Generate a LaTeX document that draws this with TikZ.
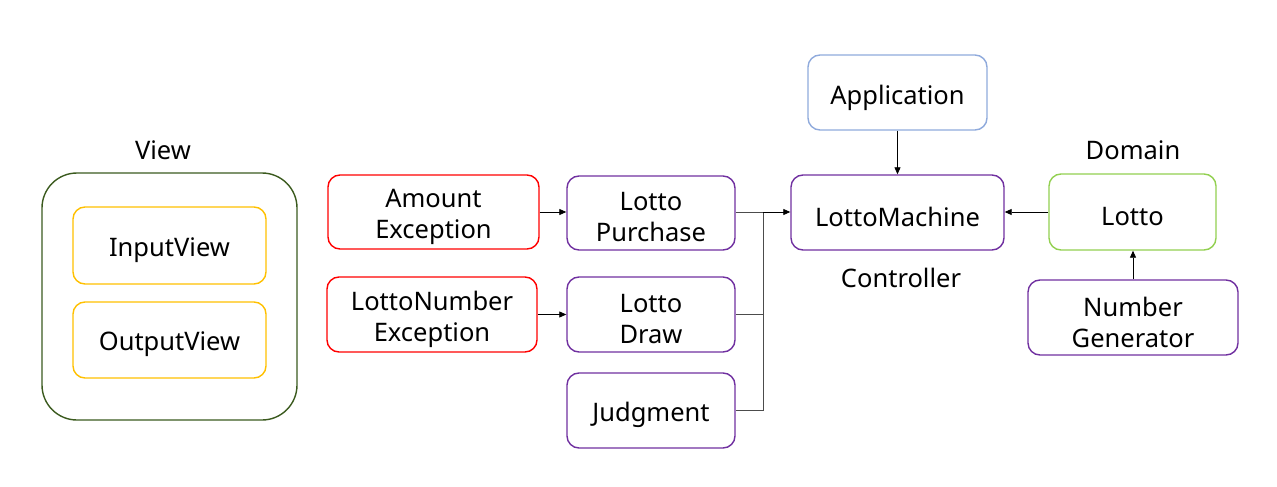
\documentclass[tikz,border=0pt]{standalone}
\usepackage{fontspec}
\setmainfont{Noto Sans}
\usetikzlibrary{arrows.meta}
\definecolor{viewgreen}{HTML}{3B5A1E}
\definecolor{yel}{HTML}{FFC000}
\definecolor{exred}{HTML}{FF0000}
\definecolor{purp}{HTML}{7030A0}
\definecolor{lblue}{HTML}{8FAADC}
\definecolor{lgreen}{HTML}{92D050}
\begin{document}
\begin{tikzpicture}[x=1pt,y=-1pt,
  box/.style={draw, line width=1.4pt, rounded corners=12pt, align=center, inner sep=0pt},
  lbl/.style={font=\fontsize{25.5}{31}\selectfont, inner sep=0pt},
  txt/.style={font=\fontsize{25.5}{31}\selectfont, inner sep=0pt, align=center},
  arr/.style={-{Triangle[length=7pt,width=6pt]}, line width=0.8pt},
  bus/.style={line width=1pt, draw=black!70}]
\useasboundingbox (0,0) rectangle (1277,487);
% View group
\node[draw=viewgreen, line width=1.4pt, rounded corners=35pt, minimum width=255pt, minimum height=247pt, inner sep=0pt] (view) at (169.5,296.5) {};
\node[lbl] (viewlbl) at (163,150) {View};
\node[box, draw=yel, minimum width=193pt, minimum height=77pt] (input) at (169.5,245.5) {};
\node[txt] (inputt) at (169.5,250) {InputView};
\node[box, draw=yel, minimum width=193pt, minimum height=76pt] (output) at (169.5,340) {};
\node[txt] (outputt) at (169.5,344.5) {OutputView};
% Exceptions
\node[box, draw=exred, minimum width=211pt, minimum height=74pt] (amount) at (433.5,212) {};
\node[txt] (amountt) at (433.5,216.5) {Amount\\Exception};
\node[box, draw=exred, minimum width=210pt, minimum height=75pt] (lne) at (432,314.5) {};
\node[txt] (lnet) at (432,319) {LottoNumber\\Exception};
% Middle column
\node[box, draw=purp, minimum width=168pt, minimum height=74pt] (purchase) at (651,213) {};
\node[txt] (purchaset) at (651,217.5) {Lotto\\Purchase};
\node[box, draw=purp, minimum width=168pt, minimum height=75pt] (draw) at (651,314.5) {};
\node[txt] (drawt) at (651,319) {Lotto\\Draw};
\node[box, draw=purp, minimum width=168pt, minimum height=75pt] (judg) at (651,410.5) {};
\node[txt] (judgt) at (651,415) {Judgment};
% Controller
\node[box, draw=purp, minimum width=213pt, minimum height=75pt] (machine) at (897.5,212.5) {};
\node[txt] (machinet) at (897.5,217) {LottoMachine};
\node[lbl] (ctrl) at (901,278) {Controller};
\node[box, draw=lblue, minimum width=179pt, minimum height=75pt] (app) at (897.5,92.5) {};
\node[txt] (appt) at (897.5,97.5) {Application};
% Domain
\node[lbl] (domlbl) at (1133,150) {Domain};
\node[box, draw=lgreen, minimum width=167pt, minimum height=76pt] (lotto) at (1132.5,212) {};
\node[txt] (lottot) at (1132.5,216.5) {Lotto};
\node[box, draw=purp, minimum width=210pt, minimum height=75pt] (numgen) at (1133,317.5) {};
\node[txt] (numgent) at (1133,322) {Number\\Generator};
% connectors
\coordinate (j1) at (763,212);
\draw[arr] (amount.east) -- (purchase.west |- amount.east);
\draw[arr] (lne.east) -- (draw.west |- lne.east);
\draw[bus] (purchase.east |- j1) -- (j1);
\draw[bus] (draw.east) -- (draw.east -| j1) -- (j1);
\draw[bus] (judg.east) -- (judg.east -| j1) -- (j1);
\draw[arr] (j1) -- (machine.west |- j1);
\draw[arr] (app.south) -- (app.south |- machine.north);
\draw[arr] (lotto.west) -- (machine.east |- lotto.west);
\draw[arr] (numgen.north) -- (numgen.north |- lotto.south);
\end{tikzpicture}
\end{document}
